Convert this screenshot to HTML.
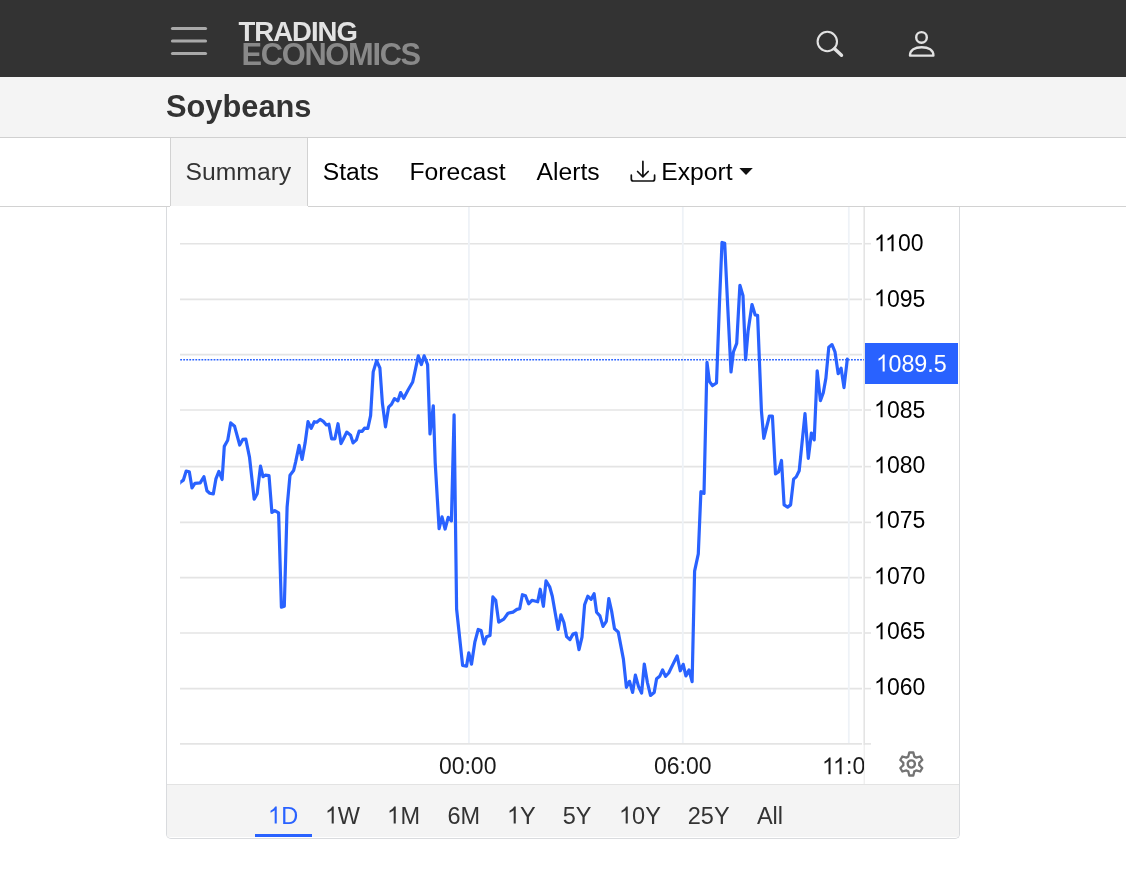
<!DOCTYPE html>
<html><head><meta charset="utf-8">
<style>
*{box-sizing:border-box;margin:0;padding:0}
html,body{width:1126px;height:892px;overflow:hidden;background:#fff;font-family:"Liberation Sans",sans-serif}
#w{position:absolute;left:0;top:0;width:1126px;height:892px;will-change:transform;background:#fff}
.a{position:absolute}
.d1{width:0.55615em;height:0.75em;vertical-align:baseline;fill:currentColor;overflow:visible}
.t{position:absolute;top:159.6px;font-size:24.7px;line-height:1;white-space:nowrap}
.r{position:absolute;top:805px;font-size:23.5px;line-height:1;color:#333;white-space:nowrap}
.yl{position:absolute;left:874.2px;font-size:23px;line-height:1;color:#000}
.xl{position:absolute;top:755.1px;font-size:23px;line-height:1;color:#1a1a1a;white-space:nowrap}
</style></head><body><div id="w">
<div class="a" style="left:0;top:0;width:1126px;height:77px;background:#333"></div>
<div class="a" style="left:0;top:77px;width:1126px;height:61px;background:#f4f4f4;border-bottom:1px solid #d0d0d0"></div>
<div class="a" style="left:0;top:206px;width:170px;height:1px;background:#d2d2d2"></div><div class="a" style="left:308px;top:206px;width:818px;height:1px;background:#d2d2d2"></div>
<div class="a" style="left:170px;top:138px;width:138px;height:68px;background:#f4f4f4;border-left:1px solid #d2d2d2;border-right:1px solid #d2d2d2"></div>
<div class="a" style="left:166px;top:207px;width:794px;height:632px;border:1px solid #d9dbde;border-top:none;border-radius:0 0 5px 5px;overflow:hidden">
<div class="a" style="left:0;top:577px;width:792px;height:53px;background:#f4f4f4;border-top:1px solid #e3e3e3"></div>
</div>
<div class="a" style="left:255px;top:834.4px;width:57px;height:2.5px;background:#2962ff"></div>
<svg class="a" style="left:0;top:0" width="1126" height="892">
<g stroke="#a9a9a9" stroke-width="3.2" stroke-linecap="round">
<line x1="172.5" y1="28.5" x2="205.5" y2="28.5"/>
<line x1="172.5" y1="41" x2="205.5" y2="41"/>
<line x1="172.5" y1="53.5" x2="205.5" y2="53.5"/>
</g>
<text x="238.5" y="40.6" font-family="Liberation Sans" font-weight="700" font-size="27.5" fill="#e3e3e3" letter-spacing="-1">TRADING</text>
<text x="241.6" y="64.8" font-family="Liberation Sans" font-weight="700" font-size="30.8" fill="#898989" letter-spacing="-1.3">ECONOMICS</text>
<circle cx="827.3" cy="41.5" r="9.7" fill="none" stroke="#e2e2e2" stroke-width="2.1"/>
<line x1="834.5" y1="48.8" x2="841.5" y2="55.3" stroke="#e2e2e2" stroke-width="3.4" stroke-linecap="round"/>
<g fill="none" stroke="#e2e2e2" stroke-width="2.4">
<circle cx="921.5" cy="37.4" r="5.3"/>
<path d="M910,55.6 C910,50 915,47.2 921.7,47.2 C928.4,47.2 933.4,50 933.4,55.6 Z" stroke-linejoin="round"/>
</g>
<g fill="none" stroke="#111" stroke-width="1.7" stroke-linecap="round" stroke-linejoin="round">
<path d="M642.9,161.4 V176.6 M637.6,171.5 L642.9,176.8 L648.2,171.5"/>
<path d="M631.3,175.2 V179 Q631.3,181 633.3,181 H652.6 Q654.6,181 654.6,179 V175.2"/>
</g>
<path d="M739.3,168.1 H752.8 L746,175 Z" fill="#111"/>
<g stroke="#e4e4e4" stroke-width="1.6"><line x1="180" y1="243.7" x2="862" y2="243.7"/><line x1="865" y1="243.7" x2="871" y2="243.7"/><line x1="180" y1="299.4" x2="862" y2="299.4"/><line x1="865" y1="299.4" x2="871" y2="299.4"/><line x1="180" y1="354.6" x2="862" y2="354.6"/><line x1="865" y1="354.6" x2="871" y2="354.6"/><line x1="180" y1="410.0" x2="862" y2="410.0"/><line x1="865" y1="410.0" x2="871" y2="410.0"/><line x1="180" y1="466.6" x2="862" y2="466.6"/><line x1="865" y1="466.6" x2="871" y2="466.6"/><line x1="180" y1="522.4" x2="862" y2="522.4"/><line x1="865" y1="522.4" x2="871" y2="522.4"/><line x1="180" y1="577.6" x2="862" y2="577.6"/><line x1="865" y1="577.6" x2="871" y2="577.6"/><line x1="180" y1="633.0" x2="862" y2="633.0"/><line x1="865" y1="633.0" x2="871" y2="633.0"/><line x1="180" y1="688.6" x2="862" y2="688.6"/><line x1="865" y1="688.6" x2="871" y2="688.6"/><line x1="180" y1="743.9" x2="862" y2="743.9"/><line x1="865" y1="743.9" x2="871" y2="743.9"/></g>
<g stroke="#eef2f7" stroke-width="1.8"><line x1="468.9" y1="207" x2="468.9" y2="743"/><line x1="682.8" y1="207" x2="682.8" y2="743"/><line x1="848.8" y1="207" x2="848.8" y2="743"/></g>
<line x1="864.2" y1="207" x2="864.2" y2="745" stroke="#e4e4e4" stroke-width="1.6"/>
<line x1="864.2" y1="745" x2="864.2" y2="784" stroke="#e8e8e8" stroke-width="1"/>
<line x1="180.2" y1="359.8" x2="864" y2="359.8" stroke="#2962ff" stroke-width="1.5" stroke-dasharray="1.8,1.2354"/>
<clipPath id="pc"><rect x="180.3" y="207" width="684" height="536"/></clipPath>
<polyline clip-path="url(#pc)" points="177.0,485.6 180.4,482.3 183.4,480.1 186.2,471.1 189.3,471.7 192.0,487.9 194.9,483.4 200.2,482.9 203.9,476.7 206.9,490.7 209.7,493.2 213.3,493.9 215.9,478.9 218.9,471.4 222.1,479.5 224.3,446.4 227.7,440.3 230.7,422.9 234.6,426.3 239.7,445.0 242.8,439.4 245.8,439.1 249.5,457.1 254.2,499.2 257.2,493.8 260.5,466.2 263.0,476.7 265.2,475.2 269.0,475.7 271.9,512.5 274.8,510.6 278.6,512.9 281.4,607.2 284.3,606.3 287.1,507.2 290.0,475.2 293.6,470.6 295.6,462.1 299.1,445.4 302.1,459.5 305.2,442.4 308.0,421.7 311.2,428.3 314.3,421.7 316.8,422.2 320.1,419.4 323.3,421.4 326.4,425.0 328.9,424.2 331.6,438.8 334.9,438.8 338.0,423.7 341.0,443.6 343.5,438.8 346.7,432.1 350.6,435.3 353.1,442.9 356.4,439.9 359.1,431.1 362.2,431.3 364.5,428.2 367.8,428.5 370.6,415.6 373.2,371.9 376.6,360.7 379.9,368.0 382.4,403.3 385.5,426.8 388.6,407.2 391.4,404.4 394.5,398.6 397.9,400.8 400.6,392.6 403.7,398.3 408.2,389.8 412.7,382.0 415.5,369.1 418.3,355.9 421.4,364.6 424.1,355.9 427.6,364.6 430.0,434.0 433.3,405.8 435.2,462.8 439.1,528.7 442.0,516.9 445.1,529.0 448.2,517.4 451.4,520.9 454.1,414.9 456.6,609.0 462.6,665.4 466.5,666.2 468.8,652.8 471.5,664.2 474.9,641.8 478.2,629.5 481.1,630.5 484.0,644.0 486.6,636.8 490.0,635.6 492.9,596.9 495.7,600.3 498.7,622.1 503.8,619.1 508.0,613.2 513.0,612.1 516.9,609.4 519.7,608.7 522.4,594.7 525.5,595.7 528.6,603.8 531.9,600.3 537.7,601.8 540.2,589.2 543.4,606.3 546.0,580.9 549.8,587.2 552.3,596.2 558.1,629.5 560.9,614.9 563.9,622.5 566.6,636.6 569.9,639.6 573.0,634.1 576.0,633.1 579.0,649.7 582.0,637.1 584.6,604.8 587.8,596.2 591.1,599.3 594.1,593.7 596.6,612.2 599.9,615.9 603.0,626.4 606.3,621.4 608.8,598.6 611.6,611.0 614.5,628.8 618.2,631.9 623.4,659.1 626.4,687.4 629.5,681.3 632.6,692.4 635.4,675.1 638.4,686.2 641.6,693.0 644.3,664.0 647.4,682.5 650.5,695.4 654.2,692.4 656.6,678.8 659.7,676.3 662.6,669.9 665.5,676.3 668.7,673.0 677.1,655.9 680.3,670.8 683.2,664.3 685.9,675.9 689.0,669.9 692.1,681.7 694.6,571.1 698.3,553.8 700.9,491.7 704.0,493.4 707.0,362.4 709.4,381.3 712.4,385.7 716.5,383.0 719.5,302.4 722.0,242.4 724.7,243.3 727.7,306.2 731.0,372.0 733.4,352.0 736.7,343.4 739.9,285.3 743.0,295.8 745.6,359.6 748.1,331.0 752.0,304.5 755.2,315.0 757.6,315.4 761.4,410.3 763.8,438.3 769.4,416.0 772.4,416.0 775.5,473.8 778.5,472.0 781.5,460.5 784.1,504.9 787.6,507.1 790.6,504.9 793.6,479.1 796.2,476.9 799.2,470.8 805.0,413.6 808.3,458.4 811.4,433.0 814.2,439.9 817.2,370.8 820.4,400.7 823.3,392.7 825.9,378.1 828.8,347.2 832.0,344.6 835.0,351.9 838.2,373.7 841.1,368.2 844.0,387.6 847.3,359.1" fill="none" stroke="#2962ff" stroke-width="3.2" stroke-linejoin="round" stroke-linecap="round"/>
<rect x="865" y="343" width="93" height="41" fill="#2962ff"/>
<path d="M908.30,756.58 L909.27,752.48 L913.33,752.48 L914.30,756.58 A8.0,8.0 0 0 1 916.23,757.70 L920.26,756.48 L922.29,760.00 L919.22,762.89 A8.0,8.0 0 0 1 919.22,765.11 L922.29,768.00 L920.26,771.52 L916.23,770.30 A8.0,8.0 0 0 1 914.30,771.42 L913.33,775.52 L909.27,775.52 L908.30,771.42 A8.0,8.0 0 0 1 906.37,770.30 L902.34,771.52 L900.31,768.00 L903.38,765.11 A8.0,8.0 0 0 1 903.38,762.89 L900.31,760.00 L902.34,756.48 L906.37,757.70 A8.0,8.0 0 0 1 908.30,756.58 Z" fill="none" stroke="#737373" stroke-width="2.3" stroke-linejoin="round"/>
<circle cx="911.3" cy="764" r="3.6" fill="none" stroke="#737373" stroke-width="2.4"/>
</svg>
<div class="a" style="left:166px;top:91.7px;font-size:30.8px;font-weight:700;color:#333;line-height:1">Soybeans</div>
<div class="t" style="left:185.6px;color:#333">Summary</div><div class="t" style="left:322.7px;color:#000">Stats</div><div class="t" style="left:409.5px;color:#000">Forecast</div><div class="t" style="left:536.6px;color:#000">Alerts</div><div class="t" style="left:661.3px;color:#000">Export</div>
<div class="yl" style="top:232.1px"><svg class="d1" style="margin-right:-0.07422em" viewBox="0 -1536 1139 1536"><path transform="scale(1,-1.025)" d="M763,0 L583,0 L583,1147 Q518,1085 412,1023 Q306,961 221,930 L221,1104 Q366,1172 474,1269 Q582,1366 627,1457 L763,1457 Z"/></svg><svg class="d1" viewBox="0 -1536 1139 1536"><path transform="scale(1,-1.025)" d="M763,0 L583,0 L583,1147 Q518,1085 412,1023 Q306,961 221,930 L221,1104 Q366,1172 474,1269 Q582,1366 627,1457 L763,1457 Z"/></svg>00</div><div class="yl" style="top:287.6px"><svg class="d1" viewBox="0 -1536 1139 1536"><path transform="scale(1,-1.025)" d="M763,0 L583,0 L583,1147 Q518,1085 412,1023 Q306,961 221,930 L221,1104 Q366,1172 474,1269 Q582,1366 627,1457 L763,1457 Z"/></svg>095</div><div class="yl" style="top:398.5px"><svg class="d1" viewBox="0 -1536 1139 1536"><path transform="scale(1,-1.025)" d="M763,0 L583,0 L583,1147 Q518,1085 412,1023 Q306,961 221,930 L221,1104 Q366,1172 474,1269 Q582,1366 627,1457 L763,1457 Z"/></svg>085</div><div class="yl" style="top:453.9px"><svg class="d1" viewBox="0 -1536 1139 1536"><path transform="scale(1,-1.025)" d="M763,0 L583,0 L583,1147 Q518,1085 412,1023 Q306,961 221,930 L221,1104 Q366,1172 474,1269 Q582,1366 627,1457 L763,1457 Z"/></svg>080</div><div class="yl" style="top:509.4px"><svg class="d1" viewBox="0 -1536 1139 1536"><path transform="scale(1,-1.025)" d="M763,0 L583,0 L583,1147 Q518,1085 412,1023 Q306,961 221,930 L221,1104 Q366,1172 474,1269 Q582,1366 627,1457 L763,1457 Z"/></svg>075</div><div class="yl" style="top:564.8px"><svg class="d1" viewBox="0 -1536 1139 1536"><path transform="scale(1,-1.025)" d="M763,0 L583,0 L583,1147 Q518,1085 412,1023 Q306,961 221,930 L221,1104 Q366,1172 474,1269 Q582,1366 627,1457 L763,1457 Z"/></svg>070</div><div class="yl" style="top:620.2px"><svg class="d1" viewBox="0 -1536 1139 1536"><path transform="scale(1,-1.025)" d="M763,0 L583,0 L583,1147 Q518,1085 412,1023 Q306,961 221,930 L221,1104 Q366,1172 474,1269 Q582,1366 627,1457 L763,1457 Z"/></svg>065</div><div class="yl" style="top:675.7px"><svg class="d1" viewBox="0 -1536 1139 1536"><path transform="scale(1,-1.025)" d="M763,0 L583,0 L583,1147 Q518,1085 412,1023 Q306,961 221,930 L221,1104 Q366,1172 474,1269 Q582,1366 627,1457 L763,1457 Z"/></svg>060</div>
<div class="yl" style="left:875.5px;top:352.6px;font-size:23.3px;color:#fff"><svg class="d1" viewBox="0 -1536 1139 1536"><path transform="scale(1,-1.025)" d="M763,0 L583,0 L583,1147 Q518,1085 412,1023 Q306,961 221,930 L221,1104 Q366,1172 474,1269 Q582,1366 627,1457 L763,1457 Z"/></svg>089.5</div>
<div class="xl" style="left:438.9px">00:00</div>
<div class="xl" style="left:654px">06:00</div>
<div class="a" style="left:800px;top:740px;width:64px;height:44px;overflow:hidden"><div class="xl" style="left:22.2px;top:15.1px"><svg class="d1" style="margin-right:-0.07422em" viewBox="0 -1536 1139 1536"><path transform="scale(1,-1.025)" d="M763,0 L583,0 L583,1147 Q518,1085 412,1023 Q306,961 221,930 L221,1104 Q366,1172 474,1269 Q582,1366 627,1457 L763,1457 Z"/></svg><svg class="d1" viewBox="0 -1536 1139 1536"><path transform="scale(1,-1.025)" d="M763,0 L583,0 L583,1147 Q518,1085 412,1023 Q306,961 221,930 L221,1104 Q366,1172 474,1269 Q582,1366 627,1457 L763,1457 Z"/></svg>:00</div></div>
<div class="r" style="left:268.2px;color:#2962ff"><svg class="d1" viewBox="0 -1536 1139 1536"><path transform="scale(1,-1.025)" d="M763,0 L583,0 L583,1147 Q518,1085 412,1023 Q306,961 221,930 L221,1104 Q366,1172 474,1269 Q582,1366 627,1457 L763,1457 Z"/></svg>D</div><div class="r" style="left:324.8px"><svg class="d1" viewBox="0 -1536 1139 1536"><path transform="scale(1,-1.025)" d="M763,0 L583,0 L583,1147 Q518,1085 412,1023 Q306,961 221,930 L221,1104 Q366,1172 474,1269 Q582,1366 627,1457 L763,1457 Z"/></svg>W</div><div class="r" style="left:387.4px"><svg class="d1" viewBox="0 -1536 1139 1536"><path transform="scale(1,-1.025)" d="M763,0 L583,0 L583,1147 Q518,1085 412,1023 Q306,961 221,930 L221,1104 Q366,1172 474,1269 Q582,1366 627,1457 L763,1457 Z"/></svg>M</div><div class="r" style="left:447.4px">6M</div><div class="r" style="left:507.0px"><svg class="d1" viewBox="0 -1536 1139 1536"><path transform="scale(1,-1.025)" d="M763,0 L583,0 L583,1147 Q518,1085 412,1023 Q306,961 221,930 L221,1104 Q366,1172 474,1269 Q582,1366 627,1457 L763,1457 Z"/></svg>Y</div><div class="r" style="left:562.8px">5Y</div><div class="r" style="left:619.0px"><svg class="d1" viewBox="0 -1536 1139 1536"><path transform="scale(1,-1.025)" d="M763,0 L583,0 L583,1147 Q518,1085 412,1023 Q306,961 221,930 L221,1104 Q366,1172 474,1269 Q582,1366 627,1457 L763,1457 Z"/></svg>0Y</div><div class="r" style="left:687.8px">25Y</div><div class="r" style="left:756.9px">All</div>
</div></body></html>
